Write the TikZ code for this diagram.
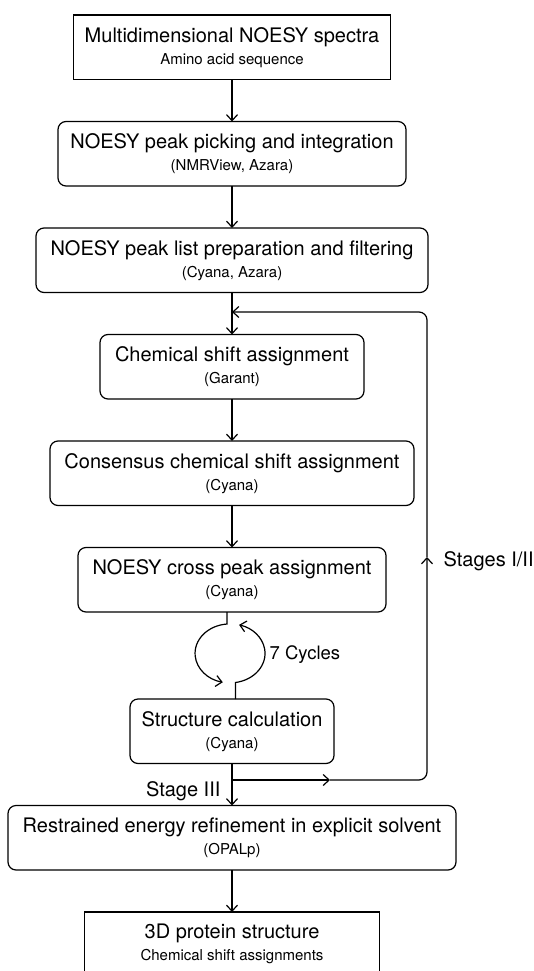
\documentclass[tikz,border=0pt]{standalone}
\usepackage{fontspec}
\setmainfont{TeX Gyre Heros}
\usepackage{tikz}
\newcommand{\prog}[1]{{\fontsize{15}{18}\selectfont #1}}
\usetikzlibrary{positioning, arrows.meta}
\tikzstyle{procbox} = [draw, rounded corners=8pt, minimum height=64.5pt, inner sep=0pt, outer sep=0pt, align=center, font=\fontsize{20}{22}\selectfont]
\tikzstyle{databox} = [procbox, sharp corners]
\tikzstyle{flow} = [-{Straight Barb[length=6pt,width=11pt]}]
\tikzstyle{note} = [inner sep=0pt, font=\fontsize{20}{24}\selectfont]

\begin{document}
\begin{tikzpicture}[x=1pt, y=1pt, line width=1.2pt, node distance=42pt]
	\path[use as bounding box, clip] (0,0) rectangle (533,-971);
	\node[databox, minimum width=317pt] (spectra) at (232,-47.25) {Multidimensional NOESY spectra\\\prog{Amino acid sequence}};
	\node[procbox, minimum width=348pt, below=of spectra] (picking) {NOESY peak picking and integration\\\prog{(NMRView, Azara)}};
	\node[procbox, minimum width=392pt, below=of picking] (peaklist) {NOESY peak list preparation and filtering\\\prog{(Cyana, Azara)}};
	\node[procbox, minimum width=264pt, below=of peaklist] (chemshift) {Chemical shift assignment\\\prog{(Garant)}};
	\node[procbox, minimum width=364pt, below=of chemshift] (consensus) {Consensus chemical shift assignment\\\prog{(Cyana)}};
	\node[procbox, minimum width=308pt, below=of consensus] (crosspeak) {NOESY cross peak assignment\\\prog{(Cyana)}};
	\node[procbox, minimum width=204pt, below=87pt of crosspeak] (structcalc) {Structure calculation\\\prog{(Cyana)}};
	\node[procbox, minimum width=448pt, below=of structcalc] (refine) {Restrained energy refinement in explicit solvent\\\prog{(OPALp)}};
	\node[databox, minimum width=295pt, below=of refine] (protein) {3D protein structure\\\prog{Chemical shift assignments}};

	\draw[flow] (spectra) -- (picking);
	\draw[flow] (picking) -- (peaklist);
	\draw[flow] (peaklist) -- (chemshift);
	\draw[flow] (chemshift) -- (consensus);
	\draw[flow] (consensus) -- (crosspeak);
	\draw[flow] (structcalc) -- (refine);
	\draw[flow] (refine) -- (protein);

	% cycles between assignment and structure calculation
	\coordinate[below=12pt of crosspeak.south, xshift=-5pt] (looptop);
	\coordinate[above=16.5pt of structcalc.north, xshift=3.5pt] (loopbot);
	\draw[flow] (crosspeak.south -| looptop) -- (looptop) arc[start angle=95, end angle=258, x radius=35pt, y radius=29.5pt];
	\draw[flow] (structcalc.north -| loopbot) -- (loopbot) arc[start angle=-81, end angle=75, x radius=35pt, y radius=29.5pt];
	\node[note, anchor=west, font=\fontsize{18.5}{22}\selectfont] (cycles) at (269,-655) {7 Cycles};

	% feedback to chemical shift assignment
	\coordinate[below=16.5pt of structcalc.south] (split);
	\coordinate[below=19.5pt of peaklist.south] (merge);
	\coordinate[right=98pt of split] (fbtipa);
	\coordinate (fbtipb) at (427,-557);
	\draw[flow] (split) -- (fbtipa);
	\draw[flow, rounded corners=8pt] (fbtipa) -| (fbtipb);
	\draw[flow, rounded corners=8pt] (fbtipb) |- (merge);
	\node[note, anchor=west] (stagesa) at (443,-561) {Stages I/II};
	\node[note, anchor=east] (stagesb) at (221,-791) {Stage III};
\end{tikzpicture}
\end{document}
